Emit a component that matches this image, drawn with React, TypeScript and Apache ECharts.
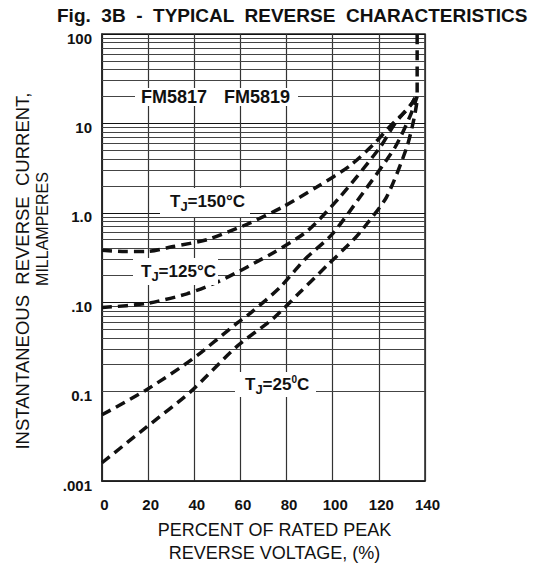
import React, { useEffect, useRef } from 'react';
import * as echarts from 'echarts';

// Axis ticks and labels
const xTicks = [0, 20, 40, 60, 80, 100, 120, 140];
const yTickValues = [100, 10, 1, 0.1, 0.01, 0.001];
const yTickLabels = ['100', '10', '1.0', '.10', '0.1', '.001'];
const decades = [0.001, 0.01, 0.1, 1, 10];
const minorMultipliers = [2, 3, 4, 5, 6, 7, 8, 9];

// Curves: [percent of rated peak reverse voltage, current mA]
const curveTj150: [number, number][] = [
  [0, 0.38], [10, 0.37], [19.5, 0.37], [30.9, 0.42], [45.5, 0.5], [58.5, 0.67], [64.2, 0.77],
  [78.6, 1.17], [93.1, 1.94], [107.5, 3.37], [117.6, 5.8], [124.9, 9.3], [130.6, 13],
  [134.3, 16.8], [136.6, 22], [136.6, 100],
];
const curveTj125: [number, number][] = [
  [0, 0.087], [19.5, 0.097], [36.8, 0.124], [49.8, 0.167], [59.9, 0.225], [67.8, 0.29],
  [74.3, 0.357], [88.8, 0.62], [103.2, 1.51], [120.5, 5.4], [127, 10], [134.4, 16.8], [136.6, 22],
];
const curveTj75: [number, number][] = [
  [0, 0.0055], [18.8, 0.0103], [39, 0.0229], [58.5, 0.0582], [64.2, 0.075], [77.2, 0.147],
  [88, 0.303], [99.6, 0.57], [111.9, 1.51], [127, 5.4], [133.5, 12], [136.6, 20],
];
const curveTj25: [number, number][] = [
  [0, 0.0016], [19.5, 0.00405], [38.2, 0.00986], [58.5, 0.0321], [74.3, 0.066], [85.9, 0.13],
  [97.4, 0.255], [109, 0.5], [113.3, 0.67], [123.4, 1.51], [132.1, 5.4], [135.3, 11.5], [136.6, 18],
];

const FONT = '"Liberation Sans", Arial, sans-serif';

export default function App() {
  const ref = useRef<HTMLDivElement>(null);
  useEffect(() => {
    const chart = echarts.init(ref.current!, null, { renderer: 'svg' });
    const minorValues: number[] = [];
    decades.forEach((d) => minorMultipliers.forEach((m) => minorValues.push(+(d * m).toPrecision(3))));

    const curveStyle = {
      type: 'line',
      symbol: 'none',
      showSymbol: false,
      smooth: 0.25,
      z: 5,
      lineStyle: { color: '#111', width: 3.5, type: [10, 6], cap: 'butt' },
    };

    const richT = {
      t: { fontSize: 17, fontWeight: 'bold', fontFamily: FONT, fill: '#111' },
      j: { fontSize: 13, fontWeight: 'bold', fontFamily: FONT, fill: '#111', padding: [11, 0, 0, 0] },
      s: { fontSize: 10, fontWeight: 'bold', fontFamily: FONT, fill: '#111', padding: [0, 0, 9, 0] },
    };

    const option: any = {
      animation: false,
      backgroundColor: '#fff',
      title: {
        text: 'Fig.  3B  -  TYPICAL  REVERSE  CHARACTERISTICS',
        left: 57,
        top: 6,
        padding: 0,
        textStyle: { fontSize: 19, fontWeight: 'bold', fontFamily: FONT, color: '#111' },
      },
      grid: {
        left: 102,
        right: 115,
        top: 34,
        bottom: 81,
        show: true,
        borderColor: '#222',
        borderWidth: 1.5,
        containLabel: false,
      },
      xAxis: {
        type: 'value',
        min: xTicks[0],
        max: xTicks[xTicks.length - 1],
        interval: 20,
        axisLine: { show: true, lineStyle: { color: '#222', width: 1.5 } },
        axisTick: { show: false },
        splitLine: { show: true, lineStyle: { color: '#333', width: 1.2 } },
        axisLabel: {
          fontSize: 15,
          fontWeight: 'bold',
          fontFamily: FONT,
          color: '#111',
          margin: 16,
          padding: [0, 0, 0, 5],
        },
        name: 'PERCENT OF RATED PEAK\nREVERSE VOLTAGE, (%)',
        nameLocation: 'middle',
        nameGap: 37,
        nameTextStyle: {
          fontSize: 18,
          fontFamily: FONT,
          color: '#111',
          lineHeight: 23,
          padding: [0, 0, 0, 22],
        },
      },
      yAxis: {
        type: 'log',
        logBase: 10,
        min: yTickValues[yTickValues.length - 1],
        max: yTickValues[0],
        axisLine: { show: true, lineStyle: { color: '#222', width: 1.5 } },
        axisTick: { show: false },
        splitLine: { show: true, lineStyle: { color: '#111', width: 1 } },
        axisLabel: {
          fontSize: 15,
          fontWeight: 'bold',
          fontFamily: FONT,
          color: '#111',
          margin: 10,
          verticalAlign: 'top',
          lineHeight: 8,
          showMinLabel: true,
          showMaxLabel: true,
          formatter: (val: number) => {
            const i = yTickValues.findIndex((t) => Math.abs(Math.log10(t) - Math.log10(val)) < 1e-6);
            return i >= 0 ? yTickLabels[i] : '';
          },
        },
      },
      series: [
        {
          type: 'line',
          data: [],
          z: 1,
          markLine: {
            silent: true,
            symbol: ['none', 'none'],
            label: { show: false },
            lineStyle: { color: '#444', width: 1, type: 'solid' },
            data: minorValues.map((v) => ({ yAxis: v })),
          },
        },
        { ...curveStyle, name: 'TJ=150', data: curveTj150 },
        { ...curveStyle, name: 'TJ=125', data: curveTj125 },
        { ...curveStyle, name: 'TJ=75', data: curveTj75 },
        { ...curveStyle, name: 'TJ=25', data: curveTj25 },
      ],
      graphic: [
        { type: 'rect', z: 50, shape: { x: 135, y: 88, width: 163, height: 18 }, style: { fill: '#fff' } },
        { type: 'rect', z: 50, shape: { x: 160, y: 188, width: 90, height: 29 }, style: { fill: '#fff' } },
        { type: 'rect', z: 50, shape: { x: 133, y: 258, width: 85, height: 27 }, style: { fill: '#fff' } },
        { type: 'rect', z: 50, shape: { x: 235, y: 372, width: 81, height: 25 }, style: { fill: '#fff' } },
        {
          type: 'text', z: 51, x: 141, y: 97,
          style: { text: 'FM5817', font: 'bold 18px ' + FONT, fill: '#111', align: 'left', verticalAlign: 'middle' },
        },
        {
          type: 'text', z: 51, x: 224, y: 97,
          style: { text: 'FM5819', font: 'bold 18px ' + FONT, fill: '#111', align: 'left', verticalAlign: 'middle' },
        },
        {
          type: 'text', z: 51, x: 170, y: 201,
          style: { text: '{t|T}{j|J}{t|=150°C}', rich: richT, align: 'left', verticalAlign: 'middle' },
        },
        {
          type: 'text', z: 51, x: 141, y: 271,
          style: { text: '{t|T}{j|J}{t|=125°C}', rich: richT, align: 'left', verticalAlign: 'middle' },
        },
        {
          type: 'text', z: 51, x: 245, y: 384,
          style: { text: '{t|T}{j|J}{t|=25}{s|0}{t|C}', rich: richT, align: 'left', verticalAlign: 'middle' },
        },
        {
          type: 'text', z: 51, x: 22, y: 271, rotation: Math.PI / 2,
          style: { text: 'INSTANTANEOUS  REVERSE  CURRENT,', font: '18.5px ' + FONT, fill: '#111', align: 'center', verticalAlign: 'middle' },
        },
        {
          type: 'text', z: 51, x: 42, y: 229, rotation: Math.PI / 2,
          style: { text: 'MILLAMPERES', font: '16px ' + FONT, fill: '#111', align: 'center', verticalAlign: 'middle' },
        },
      ],
    };
    chart.setOption(option);
    return () => chart.dispose();
  }, []);
  return <div ref={ref} style={{ position: 'fixed', left: 0, top: 0, width: 540, height: 569 }} />;
}
